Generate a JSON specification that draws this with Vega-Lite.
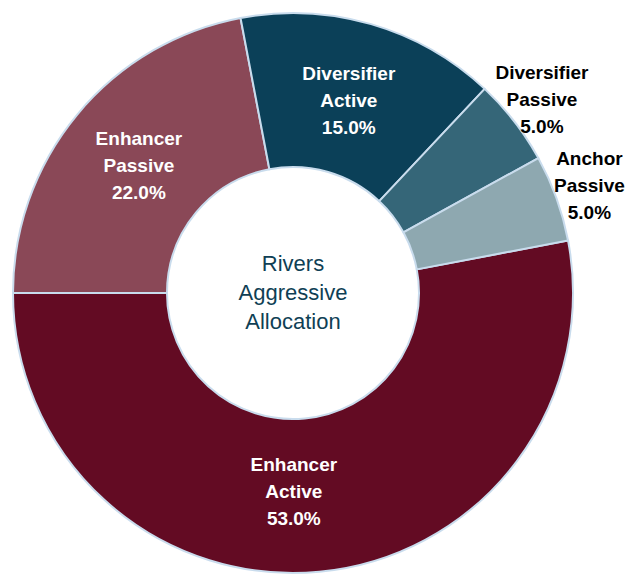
{
  "$schema": "https://vega.github.io/schema/vega-lite/v6.json",
  "width": 586,
  "height": 586,
  "padding": 0,
  "background": "white",
  "config": {"view": {"stroke": null}},
  "layer": [
    {
      "data": {"values": [
        {"category": "Enhancer Active", "value": 53, "ord": 1},
        {"category": "Enhancer Passive", "value": 22, "ord": 2},
        {"category": "Diversifier Active", "value": 15, "ord": 3},
        {"category": "Diversifier Passive", "value": 5, "ord": 4},
        {"category": "Anchor Passive", "value": 5, "ord": 5}
      ]},
      "transform": [
        {"calculate": "[split(datum.category, ' ')[0], split(datum.category, ' ')[1], format(datum.value, '.1f') + '%']", "as": "label"},
        {"stack": "value", "groupby": [], "sort": [{"field": "ord", "order": "ascending"}], "as": ["v0", "v1"]},
        {"calculate": "(datum.v0 + datum.v1) / 2", "as": "mid"}
      ],
      "layer": [
        {
          "mark": {"type": "arc", "outerRadius": 280, "innerRadius": 126, "stroke": "#c9dced", "strokeWidth": 2},
          "encoding": {
            "theta": {"field": "v0", "type": "quantitative", "stack": null, "scale": {"domain": [0, 100], "range": [1.3823, 7.66549]}},
            "theta2": {"field": "v1"},
            "color": {
              "field": "category", "type": "nominal", "legend": null,
              "scale": {
                "domain": ["Enhancer Active", "Enhancer Passive", "Diversifier Active", "Diversifier Passive", "Anchor Passive"],
                "range": ["#630b23", "#8a4857", "#0b4058", "#356678", "#8ea8b0"]
              }
            }
          }
        },
        {
          "transform": [{"filter": "datum.ord == 2 || datum.ord == 3"}],
          "mark": {"type": "text", "radius": 200, "dy": -27, "fill": "white", "font": "Liberation Sans", "fontWeight": "bold", "fontSize": 19, "lineHeight": 27, "align": "center", "baseline": "middle"},
          "encoding": {
            "theta": {"field": "mid", "type": "quantitative", "stack": null},
            "text": {"field": "label"}
          }
        },
        {
          "transform": [{"filter": "datum.ord == 1"}],
          "mark": {"type": "text", "radius": 200, "dx": -18, "dy": -27, "fill": "white", "font": "Liberation Sans", "fontWeight": "bold", "fontSize": 19, "lineHeight": 27, "align": "center", "baseline": "middle"},
          "encoding": {
            "theta": {"field": "mid", "type": "quantitative", "stack": null},
            "text": {"field": "label"}
          }
        },
        {
          "transform": [{"filter": "datum.ord >= 4"}],
          "mark": {"type": "text", "radius": 315, "dy": -27, "fill": "black", "font": "Liberation Sans", "fontWeight": "bold", "fontSize": 19, "lineHeight": 27, "align": "center", "baseline": "middle"},
          "encoding": {
            "theta": {"field": "mid", "type": "quantitative", "stack": null},
            "text": {"field": "label"}
          }
        }
      ]
    },
    {
      "data": {"values": [{"title": ["Rivers", "Aggressive", "Allocation"]}]},
      "mark": {"type": "text", "radius": 0, "dy": -29, "fill": "#0f3f55", "font": "Liberation Sans", "fontSize": 22, "lineHeight": 29, "align": "center", "baseline": "middle"},
      "encoding": {
        "theta": {"value": 0},
        "text": {"field": "title"}
      }
    }
  ]
}
